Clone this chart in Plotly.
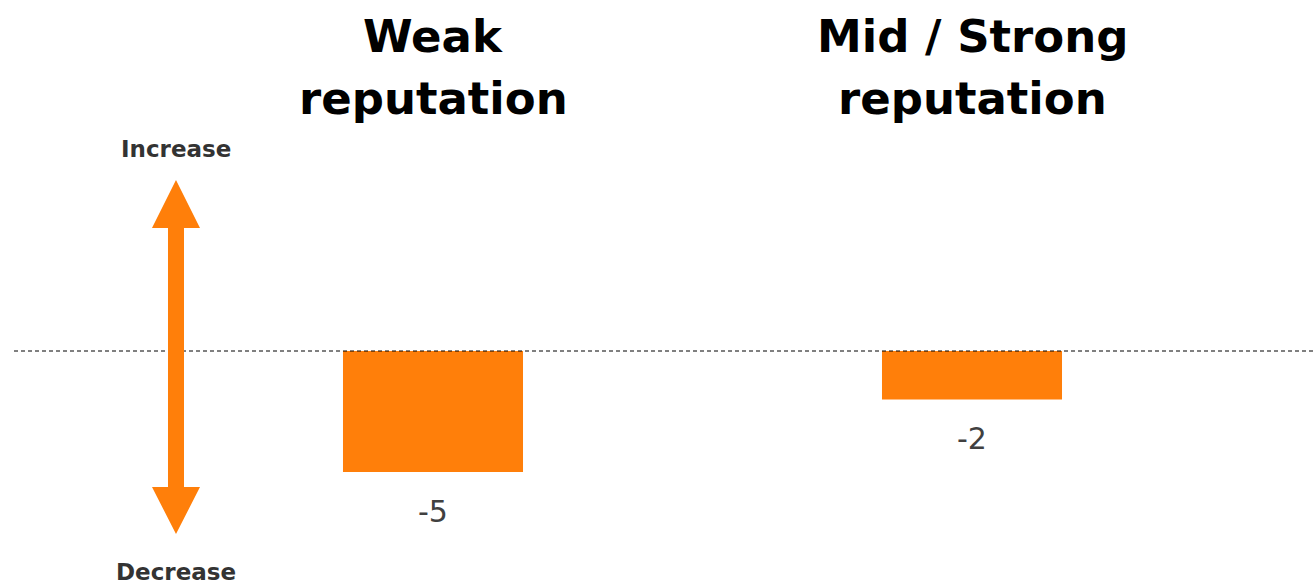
import plotly.graph_objects as go

# Data
categories = ["Weak<br>reputation", "Mid / Strong<br>reputation"]
values = [-5, -2]
value_labels = ["-5", "-2"]

ORANGE = "#FF7F0A"
TEXT = "#333333"
FONT = "DejaVu Sans"
W, H = 1314, 586


def px(x):
    return x / W


def py(y):
    return 1 - y / H


fig = go.Figure()
fig.add_trace(go.Bar(
    x=[0, 1], y=values, width=0.334,
    marker=dict(color=ORANGE, line=dict(width=0)),
    hoverinfo="skip",
))

# category headings (one annotation per line for wider line spacing) and value labels
for i, (cat, val, lab) in enumerate(zip(categories, values, value_labels)):
    for line_no, line in enumerate(cat.split("<br>")):
        fig.add_annotation(x=i, xref="x", y=py(36 + 63 * line_no), yref="paper",
                           yanchor="middle", xanchor="center",
                           text=f"<b>{line}</b>", showarrow=False,
                           font=dict(family=FONT, size=45, color="#000000"))
    fig.add_annotation(x=i, xref="x", y=val, yref="y", yanchor="top",
                       xanchor="center", text=lab, showarrow=False, yshift=-20,
                       font=dict(family=FONT, size=30, color="#404040"))

# zero reference line
fig.add_shape(type="line", xref="paper", yref="y", x0=px(14), x1=1, y0=0, y1=0,
              line=dict(color="#000000", width=1, dash="4px,3px"))

# double-headed direction arrow
pts = [(176, 180), (200, 228), (184, 228), (184, 487), (200, 487), (176, 534),
       (152, 487), (168, 487), (168, 228), (152, 228)]
path = "M " + " L ".join(f"{px(x):.5f},{py(y):.5f}" for x, y in pts) + " Z"
fig.add_shape(type="path", xref="paper", yref="paper", path=path,
              fillcolor=ORANGE, line=dict(width=0))

for label, ypix in (("Increase", 149), ("Decrease", 572)):
    fig.add_annotation(x=px(176), y=py(ypix), xref="paper", yref="paper",
                       xanchor="center", yanchor="middle",
                       text=f"<b>{label}</b>", showarrow=False,
                       font=dict(family=FONT, size=23, color=TEXT))

ppu = 24.2
fig.update_layout(
    width=W, height=H,
    margin=dict(l=0, r=0, t=0, b=0),
    paper_bgcolor="white", plot_bgcolor="white",
    showlegend=False,
    xaxis=dict(range=[-433 / 539, (W - 433) / 539], visible=False),
    yaxis=dict(range=[-(H - 351) / ppu, 351 / ppu], visible=False),
)

fig.write_html("out.html")
